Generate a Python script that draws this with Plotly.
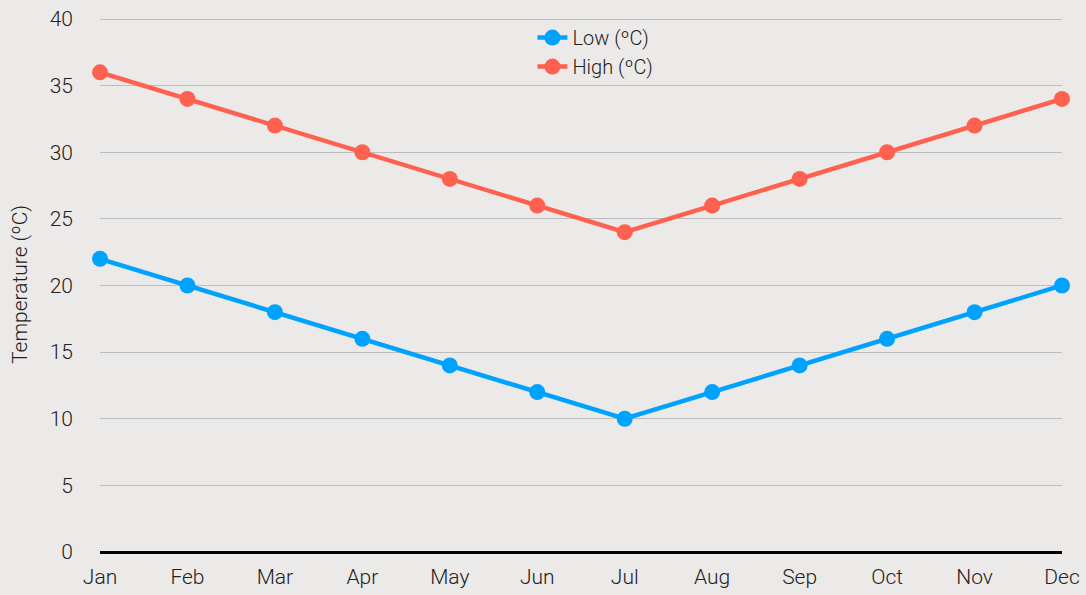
import plotly.graph_objects as go

months = ["Jan", "Feb", "Mar", "Apr", "May", "Jun", "Jul", "Aug", "Sep", "Oct", "Nov", "Dec"]
low = [22, 20, 18, 16, 14, 12, 10, 12, 14, 16, 18, 20]
high = [36, 34, 32, 30, 28, 26, 24, 26, 28, 30, 32, 34]

fig = go.Figure()
fig.add_trace(go.Scatter(x=months, y=low, name="Low (ºC)", mode="lines+markers", cliponaxis=False,
                         line=dict(color="#00A2FF", width=4.5), marker=dict(size=16)))
fig.add_trace(go.Scatter(x=months, y=high, name="High (ºC)", mode="lines+markers", cliponaxis=False,
                         line=dict(color="#FF6150", width=4.5), marker=dict(size=16)))

fig.update_layout(
    width=1086, height=595,
    paper_bgcolor="#ECEAE8", plot_bgcolor="#ECEAE8",
    font=dict(family="Roboto", color="#222222", size=21, weight=300),
    margin=dict(l=100, r=24, t=17, b=43, autoexpand=False),
    legend=dict(x=0.515, xanchor="center", y=0.998, yanchor="top", bgcolor="rgba(0,0,0,0)",
                font=dict(size=20, weight=300), tracegroupgap=0),
    xaxis=dict(showgrid=False, ticks="", range=[0, 11], automargin=False,
               tickfont=dict(size=21, weight=300), ticklabelstandoff=10),
    yaxis=dict(range=[0, 40.15], tickvals=[0, 5, 10, 15, 20, 25, 30, 35, 40],
               gridcolor="#BDBDBD", gridwidth=1, automargin=False,
               zeroline=True, zerolinecolor="#000000", zerolinewidth=3,
               title=dict(text="Temperature (ºC)", font=dict(size=21, weight=300), standoff=16),
               tickfont=dict(size=21, weight=300), ticklabelstandoff=26),
)
fig.write_html("out.html", config={"displayModeBar": False},
               post_script="document.body.style.margin='0';")
